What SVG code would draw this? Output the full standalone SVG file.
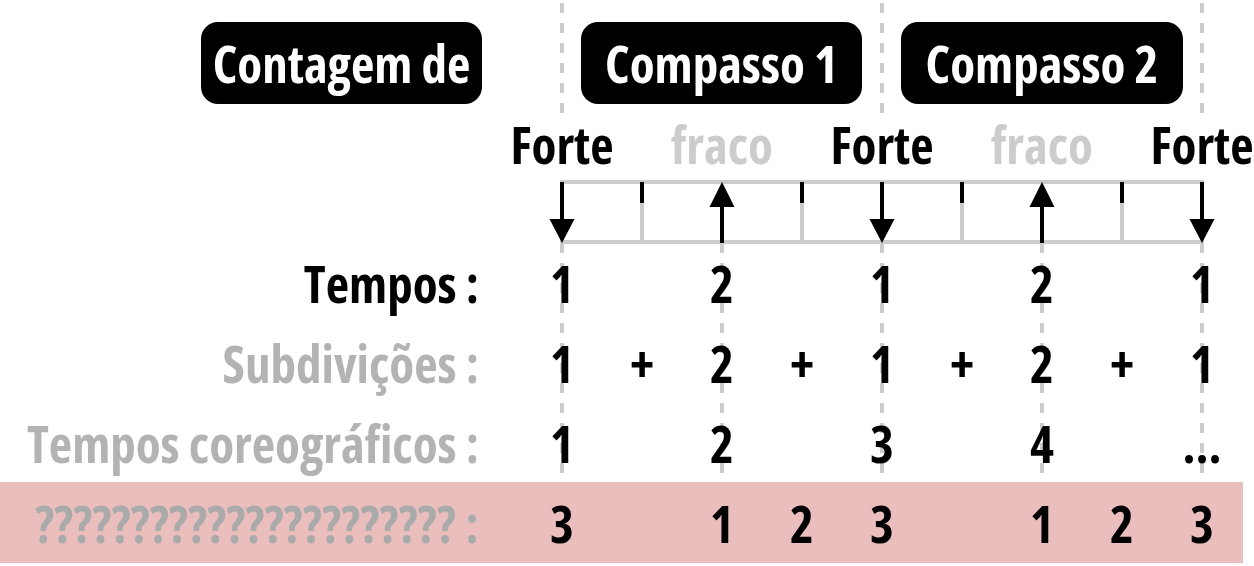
<svg xmlns="http://www.w3.org/2000/svg" width="1254" height="566" viewBox="0 0 1254 566">
  <style>
    text { font-family: "Open Sans", "Noto Sans", "DejaVu Sans Condensed", sans-serif; font-weight: 700; font-stretch: condensed; font-size: 51px; }
    .c { text-anchor: middle; }
    .r { text-anchor: end; }
    .k { fill: #000; }
    .w { fill: #fff; }
    .g { fill: #b3b3b3; }
    .q { fill: #aaaaaa; }
    .lg { fill: #cccccc; }
    .dash { stroke: #cccccc; stroke-width: 4; stroke-dasharray: 10 10; fill: none; }
    .grid { stroke: #cccccc; stroke-width: 4; fill: none; }
    .blk { stroke: #000; stroke-width: 4; fill: none; }
    .box { fill: #000; }
    .head { fill: #000; }
  </style>

  <rect id="band" x="0" y="482" width="1243" height="81" fill="#ebbebe"/>

  <g id="guides">
    <path class="dash" d="M562 3V113M882 3V113M1202 3V113"/>
    <path class="dash" d="M562 243V473M722 243V473M882 243V473M1042 243V473M1202 243V473"/>
  </g>

  <g id="header-contagem">
    <rect class="box" x="201" y="22" width="281" height="82" rx="17"/>
    <text class="w c" x="341.5" y="83">Contagem de</text>
  </g>
  <g id="header-compasso1">
    <rect class="box" x="581" y="22" width="281" height="82" rx="17"/>
    <text class="w c" x="721.5" y="83">Compasso 1</text>
  </g>
  <g id="header-compasso2">
    <rect class="box" x="901" y="22" width="282" height="82" rx="17"/>
    <text class="w c" x="1042" y="83">Compasso 2</text>
  </g>

  <g id="accents">
    <text class="k c" x="562" y="164">Forte</text>
    <text class="lg c" x="722" y="164">fraco</text>
    <text class="k c" x="882" y="164">Forte</text>
    <text class="lg c" x="1042" y="164">fraco</text>
    <text class="k c" x="1202" y="164">Forte</text>
  </g>

  <g id="grid">
    <rect class="grid" x="562" y="182" width="640" height="60"/>
    <path class="grid" d="M642 182V242M802 182V242M962 182V242M1122 182V242"/>
    <path class="blk" d="M642 182V203M802 182V203M962 182V203M1122 182V203"/>
  </g>

  <g id="connectors">
    <path class="blk" d="M562 182V222M882 182V222M1202 182V222"/>
    <path class="head" d="M549.5 219H574.5L562 243ZM869.5 219H894.5L882 243ZM1189.5 219H1214.5L1202 243Z"/>
    <path class="blk" d="M722 204V243M1042 204V243"/>
    <path class="head" d="M709.5 207H734.5L722 182ZM1029.5 207H1054.5L1042 182Z"/>
  </g>

  <g id="row-tempos">
    <text class="k r" x="479" y="303">Tempos :</text>
    <text class="k c" x="562" y="303">1</text>
    <text class="k c" x="722" y="303">2</text>
    <text class="k c" x="882" y="303">1</text>
    <text class="k c" x="1042" y="303">2</text>
    <text class="k c" x="1202" y="303">1</text>
  </g>

  <g id="row-subdivisoes">
    <text class="g r" x="479" y="383">Subdivições :</text>
    <text class="k c" x="562" y="383">1</text>
    <text class="k c" x="642" y="383">+</text>
    <text class="k c" x="722" y="383">2</text>
    <text class="k c" x="802" y="383">+</text>
    <text class="k c" x="882" y="383">1</text>
    <text class="k c" x="962" y="383">+</text>
    <text class="k c" x="1042" y="383">2</text>
    <text class="k c" x="1122" y="383">+</text>
    <text class="k c" x="1202" y="383">1</text>
  </g>

  <g id="row-coreograficos">
    <text class="g r" x="479" y="463">Tempos coreográficos :</text>
    <text class="k c" x="562" y="463">1</text>
    <text class="k c" x="722" y="463">2</text>
    <text class="k c" x="882" y="463">3</text>
    <text class="k c" x="1042" y="463">4</text>
    <text class="k c" x="1202" y="463">...</text>
  </g>

  <g id="row-unknown">
    <text class="q r" x="479" y="543" letter-spacing="0.3">?????????????????????? :</text>
    <text class="k c" x="562" y="543">3</text>
    <text class="k c" x="722" y="543">1</text>
    <text class="k c" x="802" y="543">2</text>
    <text class="k c" x="882" y="543">3</text>
    <text class="k c" x="1042" y="543">1</text>
    <text class="k c" x="1122" y="543">2</text>
    <text class="k c" x="1202" y="543">3</text>
  </g>
</svg>
